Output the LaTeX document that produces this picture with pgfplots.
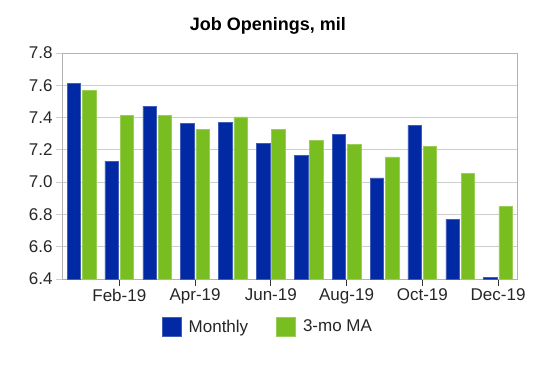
\documentclass[border=0pt]{standalone}
\usepackage{fontspec}
\setmainfont{Liberation Sans}
\usepackage{pgfplots}
\pgfplotsset{compat=1.18}
\definecolor{mblue}{RGB}{0,41,163}
\definecolor{mgreen}{RGB}{121,190,33}
\definecolor{gridc}{RGB}{205,205,205}
\begin{document}
\begin{tikzpicture}
\begin{axis}[
  name=ax, at={(0,0)}, anchor=south west,
  scale only axis, width=454.5pt, height=226pt,
  ybar=1.7pt, bar width=13.5pt,
  xmin=-0.5, xmax=11.5, ymin=6.4, ymax=7.8,
  xtick={1,3,5,7,9,11},
  xticklabels={Feb-19,Apr-19,Jun-19,Aug-19,Oct-19,Dec-19},
  ytick={6.4,6.6,6.8,7.0,7.2,7.4,7.6,7.8},
  yticklabels={6.4,6.6,6.8,7.0,7.2,7.4,7.6,7.8},
  xtick pos=bottom, ytick pos=left,
  tick align=outside, major tick length=6.5pt,
  tick label style={font=\fontsize{17}{20}\selectfont, text=black!85},
  ymajorgrids, grid style={gridc, line width=0.8pt},
  axis line style={draw=gray!60, line width=0.8pt},
  xtick style={draw=black!80, line width=0.8pt},
  ytick style={draw=gridc, line width=0.8pt},
  title={Job Openings, mil},
  title style={at={(axis description cs:0.452,1)}, anchor=base, yshift=16.3pt,
    font=\fontsize{18}{21}\selectfont\bfseries},
  legend columns=2,
  legend style={at={(axis description cs:0.452,-0.211)}, anchor=center, draw=none,
    font=\fontsize{17}{20}\selectfont, text=black!85,
    /tikz/every odd column/.append style={column sep=5.3pt},
    /tikz/every even column/.append style={column sep=26pt}},
  legend image code/.code={\fill[#1] (0pt,-9.5pt) rectangle (19pt,9.5pt);},
]
\addplot[fill=mblue, draw=mblue!75!white, line width=0.5pt] coordinates {
  (0,7.612) (1,7.130) (2,7.469) (3,7.362) (4,7.372) (5,7.241)
  (6,7.167) (7,7.297) (8,7.026) (9,7.353) (10,6.771) (11,6.410)};
\addlegendentry{Monthly}
\addplot[fill=mgreen, draw=mgreen!75!white, line width=0.5pt] coordinates {
  (0,7.570) (1,7.414) (2,7.414) (3,7.326) (4,7.404) (5,7.326)
  (6,7.260) (7,7.233) (8,7.156) (9,7.221) (10,7.055) (11,6.848)};
\addlegendentry{3-mo MA}
\end{axis}
\pgfresetboundingbox
\path (ax.south west) ++(-62.5pt,-89pt) rectangle ++(541pt,368pt);
\end{tikzpicture}
\end{document}
